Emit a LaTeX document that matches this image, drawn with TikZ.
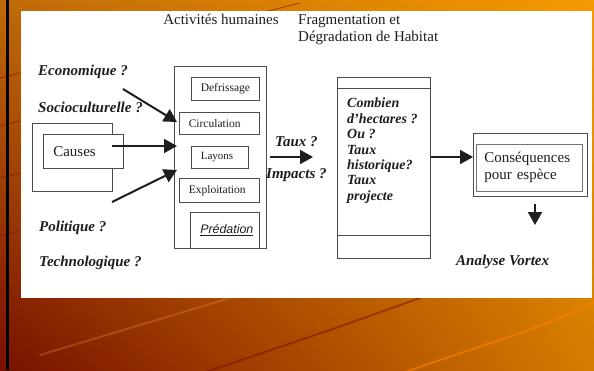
\documentclass[tikz,border=0pt]{standalone}
\usepackage{fontspec}
\setmainfont{Liberation Serif}
\setsansfont{Liberation Sans}
\usetikzlibrary{arrows.meta,shadings}

\definecolor{fondHG}{RGB}{192,106,8}
\definecolor{fondHD}{RGB}{245,154,0}
\definecolor{fondBG}{RGB}{120,16,0}
\definecolor{fondBD}{RGB}{213,124,0}
\definecolor{encre}{RGB}{30,30,30}

\tikzset{
  cadre/.style={draw=black!70, line width=0.6pt, fill=white, anchor=north west, inner sep=0pt},
  box/.style={cadre, inner xsep=9.5pt, align=left, text=encre,
    font=\fontsize{11.5}{13}\selectfont},
  quest/.style={anchor=west, inner sep=0pt, text=encre,
    font=\fontsize{15}{17}\selectfont\bfseries\itshape},
  titre/.style={inner sep=0pt, text=encre, font=\fontsize{15}{17}\selectfont},
  fleche/.style={-{Triangle[length=13pt,width=14pt]}, line width=2pt, draw=encre},
  trait/.style={line width=0.9pt, draw=#1, line cap=round},
}

\begin{document}
\begin{tikzpicture}[x=1pt,y=-1pt]
  \useasboundingbox (0,0) rectangle (594,370);

  % orange slide background
  \shade[upper left=fondHG, upper right=fondHD, lower left=fondBG, lower right=fondBD]
    (0,0) rectangle (594,370);
  \foreach \yy in {73,121,173,231,286}
    \draw[trait=fondBG!80!red, opacity=0.6] (0,\yy+5) -- ++(300,-75);
  \draw[trait=orange!70, opacity=0.25, line width=2pt] (40,355) -- (230,298);
  \draw[trait=fondBG, opacity=0.5, line width=2pt] (200,374) -- (330,330) -- (420,298);
  \draw[trait=orange, opacity=0.6, line width=2pt] (400,374) .. controls (480,345) and (540,330) .. (594,302);
  \fill[black] (6,0) rectangle (8.5,370);

  % white panel
  \fill[white] (21,11) rectangle (592,298);

  % titles
  \node[titre] (titreact) at (221,19) {Activités humaines};
  \node[titre, anchor=north west, align=left] (titrefrag) at (298,14) {Fragmentation et\\Dégradation de Habitat};

  % causes
  \node[quest] (eco) at (38,72) {Economique ?};
  \node[quest] (socio) at (38,107) {Socioculturelle ?};
  \node[quest] (poli) at (39,228) {Politique ?};
  \node[quest] (techno) at (39,263) {Technologique ?};
  \node[cadre, minimum width=80pt, minimum height=68pt] (causesfond) at (32,123) {};
  \node[box, inner xsep=10pt, text width=60pt, minimum height=34pt,
    font=\fontsize{15}{17}\selectfont] (causes) at (43,134) {Causes};

  % activities column
  \node[cadre, minimum width=92pt, minimum height=182pt] (acts) at (174,66) {};
  \node[box, text width=49pt, minimum height=23pt] (defr) at (191,77) {Defrissage};
  \node[box, text width=61pt, minimum height=22pt] (circ) at (179,112) {Circulation};
  \node[box, text width=38pt, minimum height=22pt, font=\fontsize{11}{13}\selectfont] (layons) at (191,146) {Layons};
  \node[box, text width=61pt, minimum height=24pt] (exploit) at (179,178) {Exploitation};
  \node[box, inner xsep=10pt, text width=49pt, minimum height=36pt,
    font=\fontsize{12.4}{14}\selectfont\sffamily\itshape] (preda) at (190,212) {\underline{Prédation}};

  % arrows into activities
  \coordinate (depEco) at (123,89);
  \coordinate (depCauses) at (112,146);
  \coordinate (depPol) at (112,202);
  \coordinate (finEco) at (177,122);
  \coordinate (finCauses) at (177,146);
  \coordinate (finPol) at (177,170);
  \draw[fleche] (depEco) -- (finEco);
  \draw[fleche] (depCauses) -- (finCauses);
  \draw[fleche] (depPol) -- (finPol);

  % taux / impacts
  \node[quest] (taux) at (275,142) {Taux ?};
  \node[quest] (impacts) at (266,175) {Impacts ?};
  \coordinate (depTaux) at (270,157);
  \coordinate (finTaux) at (313,157);
  \draw[fleche] (depTaux) -- (finTaux);

  % fragmentation column
  \node[cadre, minimum width=93pt, minimum height=181pt] (col) at (337,77) {};
  \draw[draw=black!70, line width=0.6pt] ([yshift=-11pt]col.north west) -- ([yshift=-11pt]col.north east);
  \draw[draw=black!70, line width=0.6pt] ([yshift=23pt]col.south west) -- ([yshift=23pt]col.south east);
  \node[quest, anchor=north west, align=left, font=\fontsize{14}{15.4}\selectfont\bfseries\itshape]
    (questions) at (347,98) {Combien\\d'hectares ?\\Ou ?\\Taux\\historique?\\Taux\\projecte};

  % consequences
  \node[cadre, minimum width=114pt, minimum height=63pt] (cons) at (473,133) {};
  \node[box, draw=black!55, inner xsep=8pt, text width=90pt, minimum height=47pt,
    font=\fontsize{15}{17}\selectfont] (consin) at (476,144) {Conséquences\\pour espèce};
  \draw[fleche] (col.east |- finTaux) -- (cons.west |- finTaux);
  \coordinate (depBas) at (535,204);
  \coordinate (finBas) at (535,225);
  \draw[fleche] (depBas) -- (finBas);
  \node[quest] (vortex) at (456,262) {Analyse Vortex};
\end{tikzpicture}
\end{document}
